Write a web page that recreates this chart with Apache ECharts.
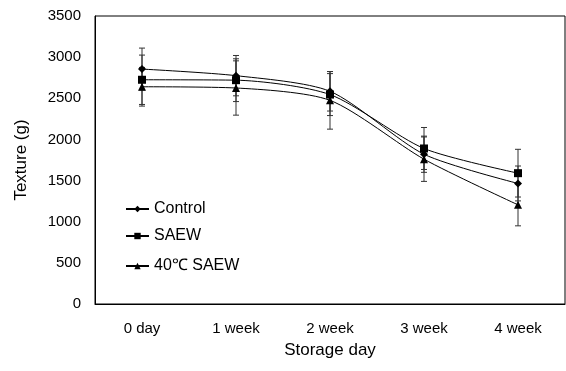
<!DOCTYPE html>
<html><head><meta charset="utf-8">
<script src="https://cdn.jsdelivr.net/npm/echarts@6/dist/echarts.min.js"></script>
<style>html,body{margin:0;padding:0;background:#fff}#c{width:566px;height:371px}</style>
</head><body><div id="c"></div>
<script>
var categories = ['0 day', '1 week', '2 week', '3 week', '4 week'];
var controlVals = [2855, 2775, 2585, 1820, 1465];
var controlErr  = [255, 245, 240, 220, 212];
var saewVals    = [2725, 2720, 2545, 1890, 1590];
var saewErr     = [300, 260, 255, 255, 290];
var saew40Vals  = [2640, 2625, 2475, 1760, 1205];
var saew40Err   = [235, 330, 350, 270, 255];
var yTicks = [0, 500, 1000, 1500, 2000, 2500, 3000, 3500];

var font = 'Liberation Sans, Arial, sans-serif';
function errData(v, e) { return v.map(function (x, i) { return [i, x - e[i], x + e[i]]; }); }
function errSeries(v, e) {
  return {
    type: 'custom', data: errData(v, e), z: 1, silent: true,
    renderItem: function (params, api) {
      var lo = api.coord([api.value(0), api.value(1)]);
      var hi = api.coord([api.value(0), api.value(2)]);
      var w = 3;
      var st = { stroke: '#333', lineWidth: 1 };
      return { type: 'group', children: [
        { type: 'line', shape: { x1: lo[0], y1: lo[1], x2: hi[0], y2: hi[1] }, style: st },
        { type: 'line', shape: { x1: lo[0] - w, y1: lo[1], x2: lo[0] + w, y2: lo[1] }, style: st },
        { type: 'line', shape: { x1: hi[0] - w, y1: hi[1], x2: hi[0] + w, y2: hi[1] }, style: st }
      ]};
    }
  };
}
function lineSeries(name, v, sym, size) {
  return { name: name, type: 'line', data: v, smooth: 0.25, symbol: sym, symbolSize: size, z: 3,
    lineStyle: { color: '#000', width: 1 }, itemStyle: { color: '#000' } };
}
var legendBase = { orient: 'vertical', left: 120, itemWidth: 23, itemHeight: 8,
  textStyle: { fontFamily: font, fontSize: 16, color: '#000' }, itemGap: 5 };
function lg(name, top) { var o = Object.assign({}, legendBase); o.data = [name]; o.top = top; return o; }

var chart = echarts.init(document.getElementById('c'), null, { renderer: 'canvas' });
chart.setOption({
  animation: false,
  grid: { left: 95, right: 1, top: 16, bottom: 67, show: true, borderColor: '#000', borderWidth: 1 },
  legend: [lg('Control', 196), lg('SAEW', 223), lg('40℃ SAEW', 253)],
  xAxis: {
    type: 'category', data: categories, boundaryGap: true,
    name: 'Storage day', nameLocation: 'middle', nameGap: 38,
    nameTextStyle: { fontFamily: font, fontSize: 17, color: '#000' },
    axisLine: { lineStyle: { color: '#000' } }, axisTick: { show: false },
    axisLabel: { fontFamily: font, fontSize: 15, color: '#000', margin: 17 }
  },
  yAxis: {
    type: 'value', min: 0, max: 3500, interval: 500,
    name: 'Texture (g)', nameLocation: 'middle', nameGap: 65,
    nameTextStyle: { fontFamily: font, fontSize: 17, color: '#000' },
    axisLine: { show: true, lineStyle: { color: '#000' } }, axisTick: { show: false },
    splitLine: { show: false },
    axisLabel: { fontFamily: font, fontSize: 15, color: '#000', margin: 14,
      formatter: function (v) { return yTicks.indexOf(v) >= 0 ? String(v) : ''; } }
  },
  series: [
    errSeries(controlVals, controlErr), errSeries(saewVals, saewErr), errSeries(saew40Vals, saew40Err),
    lineSeries('Control', controlVals, 'diamond', 8),
    lineSeries('SAEW', saewVals, 'rect', 8),
    lineSeries('40℃ SAEW', saew40Vals, 'triangle', 8)
  ]
});
</script></body></html>
